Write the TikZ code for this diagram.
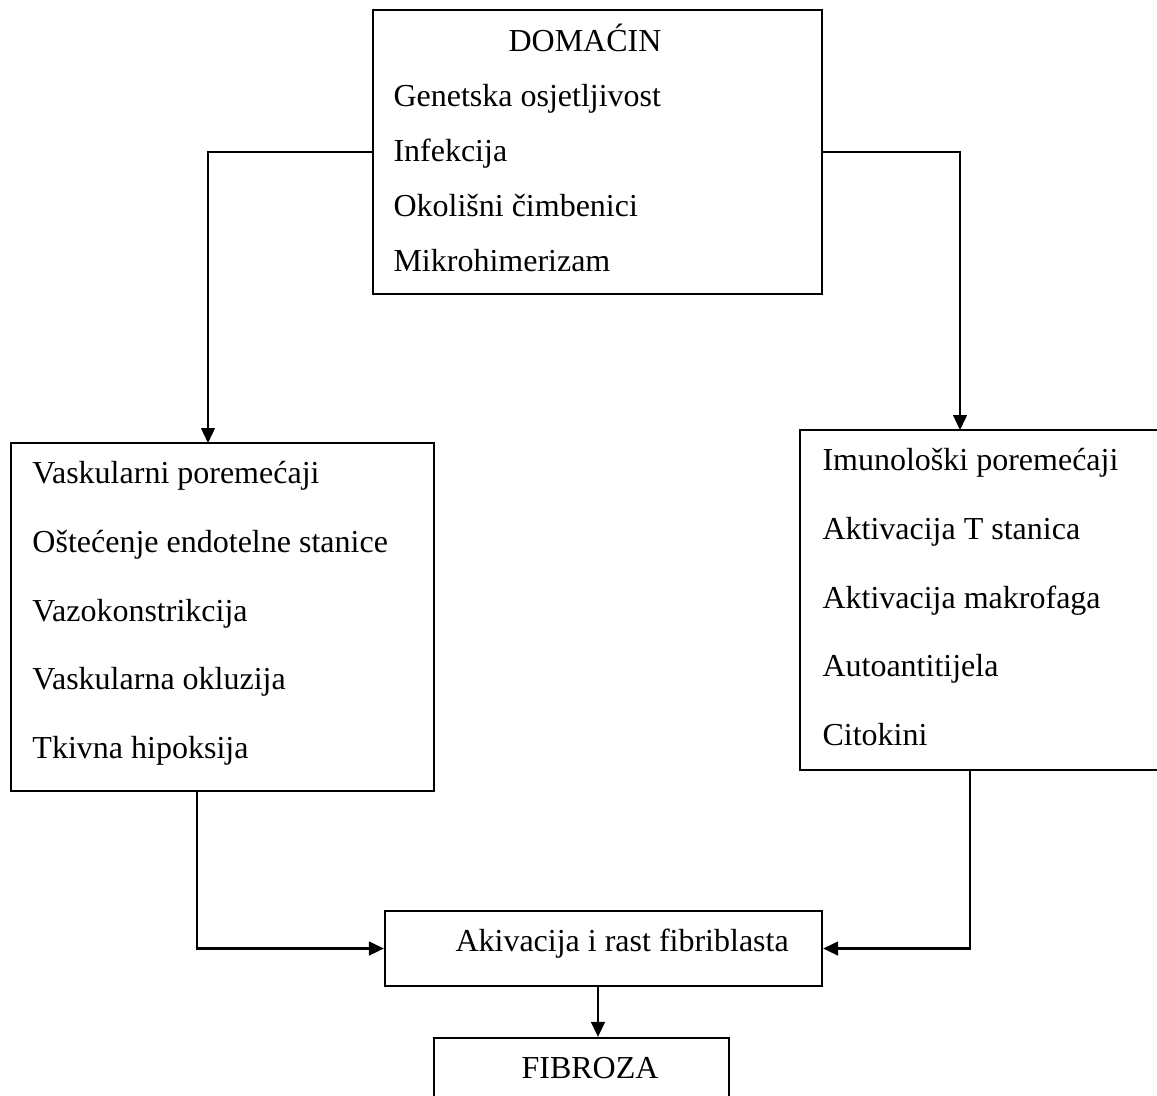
\documentclass[tikz,border=0pt]{standalone}
\usepackage{fontspec}
\setmainfont{Liberation Serif}
\usetikzlibrary{arrows.meta,fit}

\tikzset{
  box/.style={draw, line width=0.9pt, inner sep=0pt},
  arr/.style={line width=0.9pt, -{Triangle[length=6pt,width=5.5pt]}},
  txt/.style={anchor=base west, inner sep=0pt, font=\fontsize{12.8}{15}\selectfont},
  ctxt/.style={txt, anchor=base}
}

\begin{document}
\begin{tikzpicture}[x=0.4pt,y=-0.4pt]
\useasboundingbox (0,0) rectangle (1157,1095);
\clip (0,0) rectangle (1157,1095);

% boxes
\node[box, fit={(373,10) (822,294)}] (host) {};
\node[box, fit={(11,443) (434,791)}] (vasc) {};
\node[box, fit={(800,430) (1200,770)}] (imun) {};
\node[box, fit={(385,911) (822,986)}] (fib) {};
\node[box, fit={(434,1038) (729,1130)}] (fibroza) {};

% texts
\node[ctxt] (hosttitle) at (585,51) {DOMAĆIN};
\foreach \t [count=\i] in {Genetska osjetljivost, Infekcija,
  Okolišni čimbenici, Mikrohimerizam}
  \node[txt] (host\i) at (393,{51+55*\i}) {\t};

\foreach \t [count=\i] in {Vaskularni poremećaji, Oštećenje endotelne stanice,
  Vazokonstrikcija, Vaskularna okluzija, Tkivna hipoksija}
  \node[txt] (vasc\i) at (32,{415+68.7*\i}) {\t};

\foreach \t [count=\i] in {Imunološki poremećaji, Aktivacija T stanica,
  Aktivacija makrofaga, Autoantitijela, Citokini}
  \node[txt] (imun\i) at (822,{402+68.7*\i}) {\t};

\node[txt] (fibtext) at (455,951) {Akivacija i rast fibriblasta};
\node[ctxt] (fibrozatext) at (590,1078) {FIBROZA};

% connectors
\coordinate (vascin) at (208,443);
\coordinate (imunin) at (960,430);
\coordinate (vascout) at (197,791);
\coordinate (imunout) at (970,770);
\coordinate (fibout) at (598,986);

\draw[arr] (host.west) -| (vascin);
\draw[arr] (host.east) -| (imunin);
\draw[arr] (vascout) |- (fib.west);
\draw[arr] (imunout) |- (fib.east);
\draw[arr] (fibout) -- (fibout |- fibroza.north);

\end{tikzpicture}
\end{document}
